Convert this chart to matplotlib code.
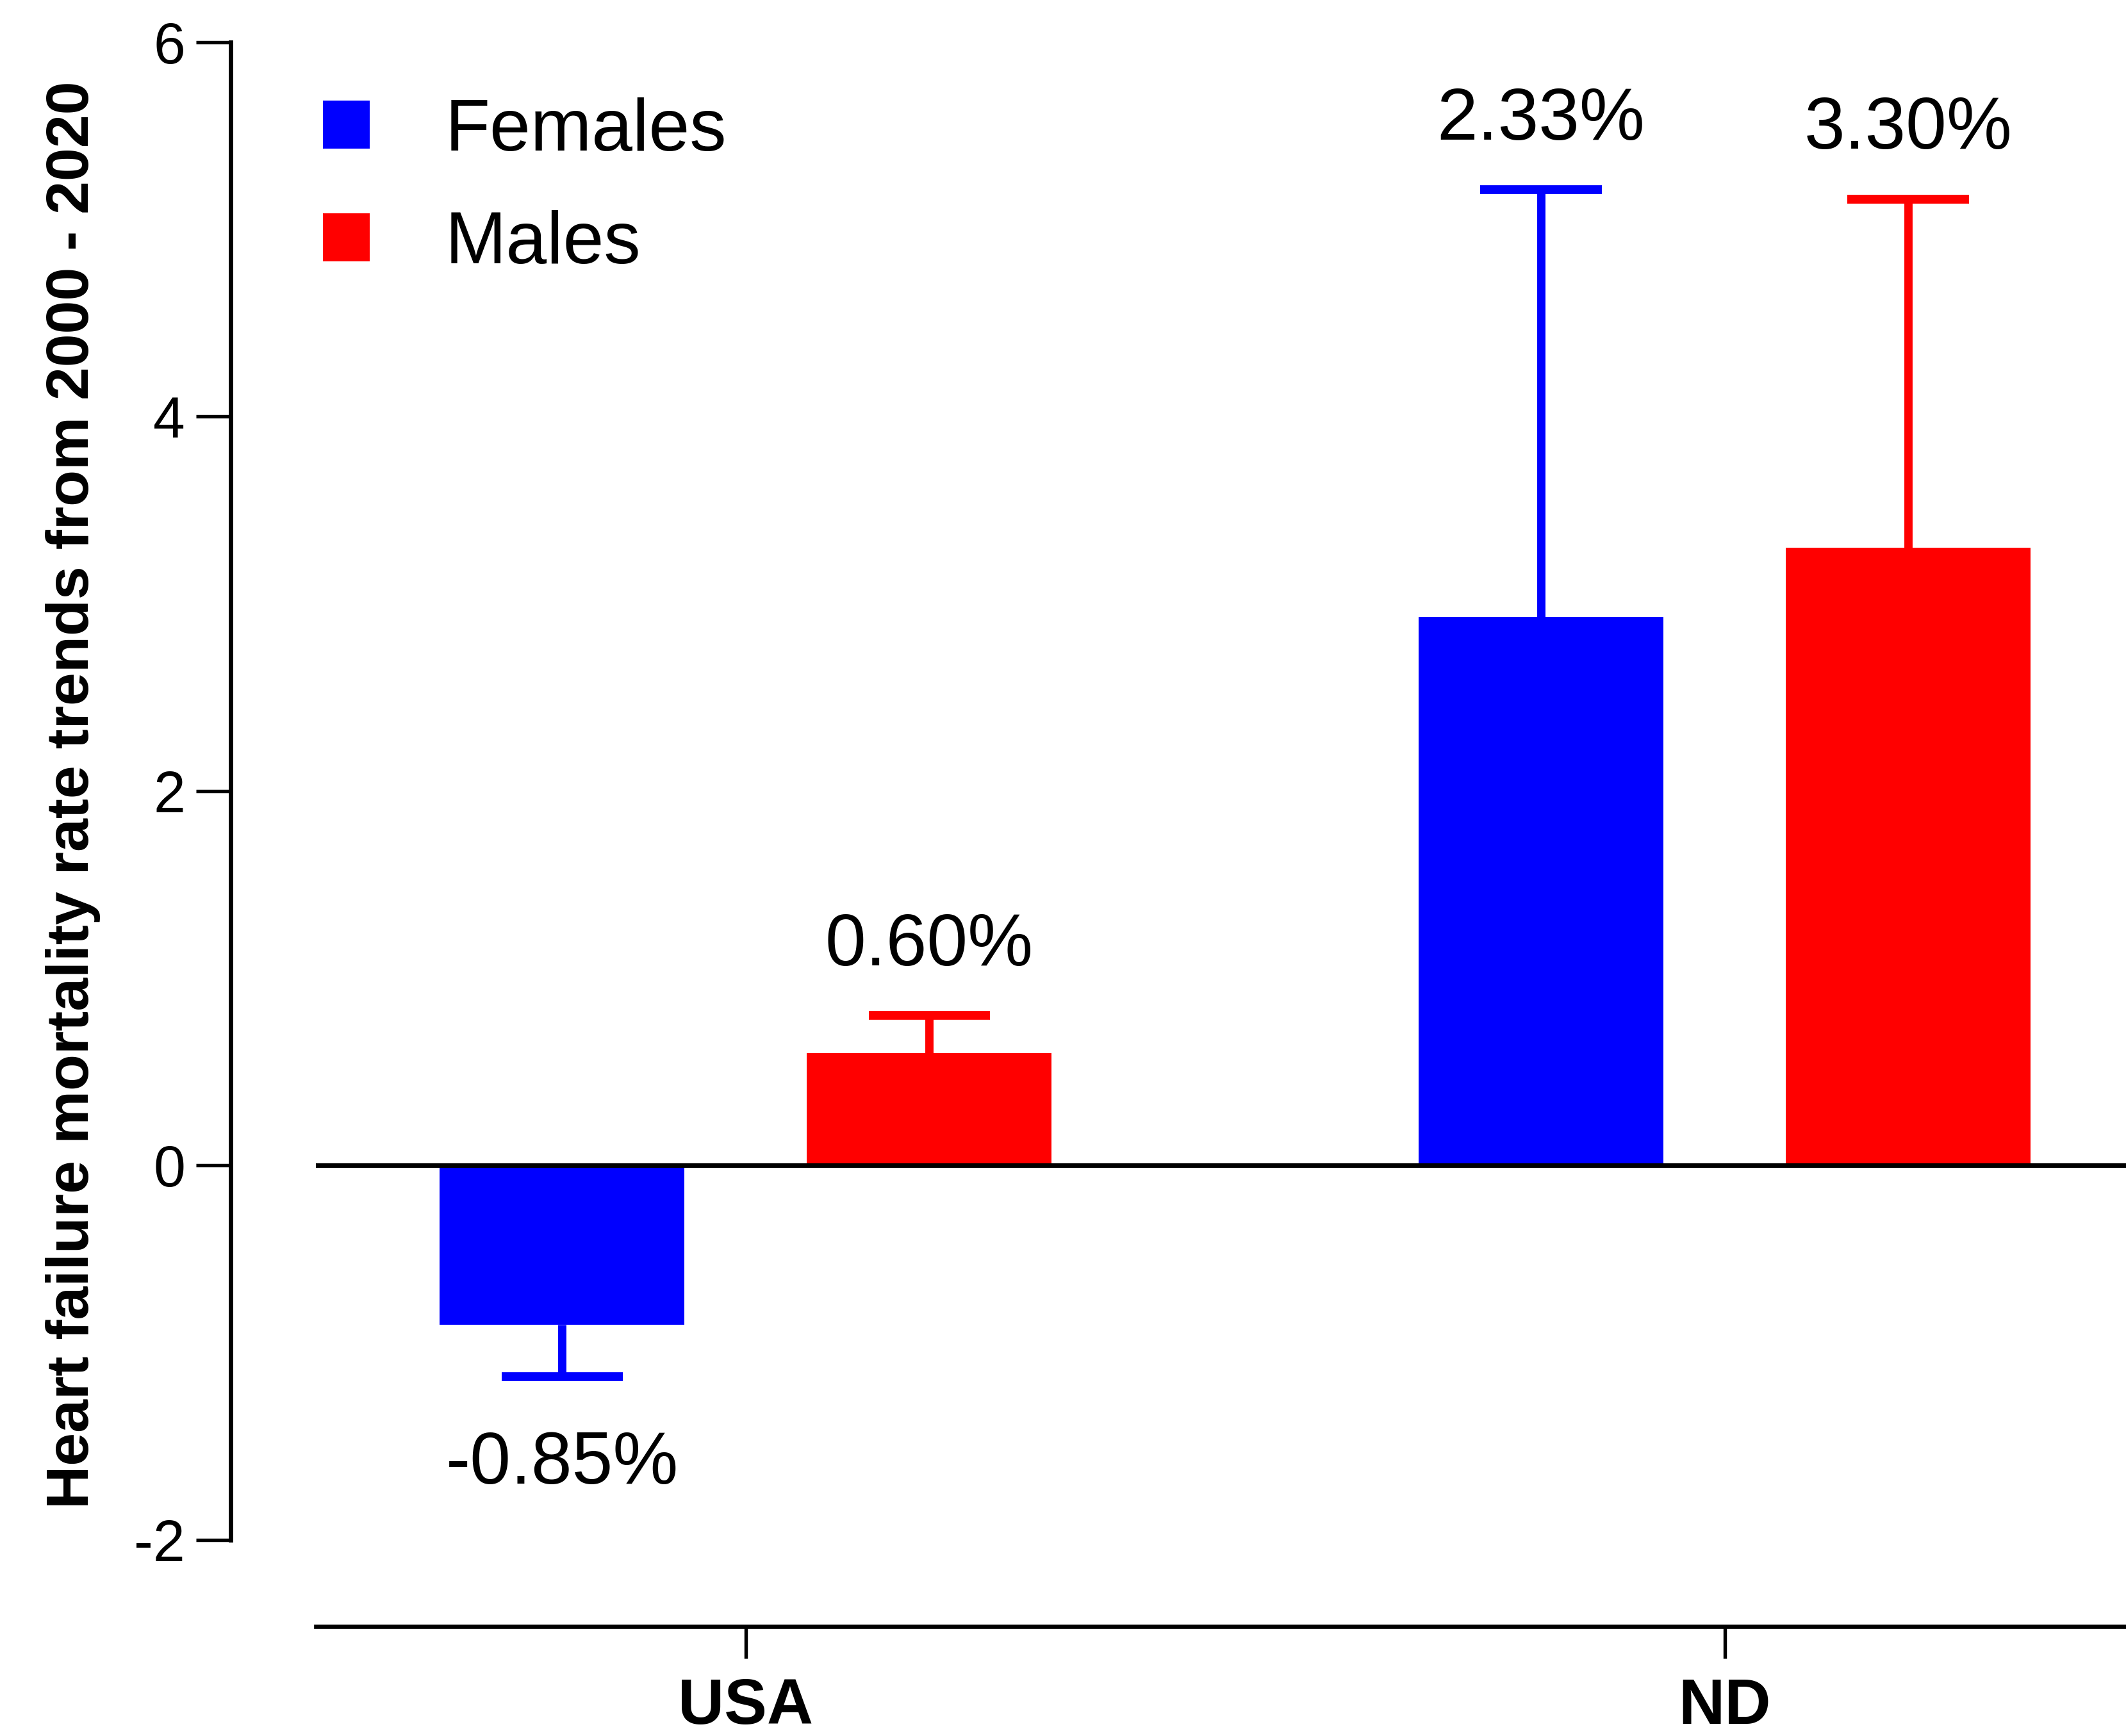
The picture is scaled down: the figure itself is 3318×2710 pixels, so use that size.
import matplotlib
matplotlib.use("Agg")
import matplotlib.pyplot as plt
import numpy as np

plt.rcParams['font.family'] = ['Liberation Sans', 'DejaVu Sans']

# data
groups = ['USA', 'ND']
series = ['Females', 'Males']
colors = ['#0000FF', '#FF0000']
females = [-0.85, 2.93]
males = [0.60, 3.30]
females_err = [0.28, 2.28]   # error away from zero
males_err = [0.20, 1.86]
females_lbl = ['-0.85%', '2.33%']
males_lbl = ['0.60%', '3.30%']
yticks = [-2, 0, 2, 4, 6]

fig = plt.figure(figsize=(3318 / 300, 2710 / 300), dpi=300)
ax = fig.add_axes([0.1486, 0.0632, 0.8514, 0.9126])

x = np.arange(len(groups))
off = 0.1875
width = 0.25
capw = 0.062

# spine first: set_position resets the ticks
for s in ['top', 'right']:
    ax.spines[s].set_visible(False)
ax.spines['left'].set_position(('outward', 32))
ax.spines['left'].set_bounds(-2, 6)
ax.spines['left'].set_linewidth(1.65)
ax.spines['bottom'].set_linewidth(1.6)

for vals, errs, lbls, col, name, sgn in [
        (females, females_err, females_lbl, colors[0], series[0], -1),
        (males, males_err, males_lbl, colors[1], series[1], 1)]:
    xs = x + sgn * off
    ax.bar(xs, vals, width, color=col, label=name, zorder=2)
    vals = np.array(vals)
    errs = np.array(errs)
    # one-sided error bars, pointing away from zero
    ends = vals + np.sign(vals) * errs
    ax.vlines(xs, vals, ends, color=col, lw=3.1, zorder=3)
    ax.hlines(ends, xs - capw, xs + capw, color=col, lw=3.3, zorder=3)
    for xi, v, e, t in zip(xs, vals, ends, lbls):
        if v < 0:
            ax.annotate(t, (xi, e), xytext=(0, -33), textcoords='offset points',
                        ha='center', va='center', fontsize=27.5)
        else:
            ax.annotate(t, (xi, e), xytext=(0, 26), textcoords='offset points',
                        ha='center', va='center', fontsize=27.5)

ax.axhline(0, color='black', lw=1.7, zorder=4)

ax.set_xlim(-0.439, 1.41)
ax.set_ylim(-2.462, 6)
ax.set_xticks(x)
ax.set_xticklabels(groups, fontsize=24, fontweight='bold')
ax.set_yticks(yticks)
ax.set_yticklabels([str(t) for t in yticks], fontsize=21.5)
ax.tick_params(axis='y', length=13, width=1.3, pad=4)
ax.tick_params(axis='x', length=12, width=1.3, pad=7)

ax.set_ylabel('Heart failure mortality rate trends from 2000 - 2020',
              fontsize=22.4, fontweight='bold')
ax.yaxis.set_label_coords(-0.119, 0.525)

ax.legend(loc='upper left', bbox_to_anchor=(0.004, 0.965), frameon=False,
          fontsize=27.5, handlelength=0.63, handleheight=0.63,
          handletextpad=1.03, labelspacing=0.6, borderaxespad=0, borderpad=0)

fig.savefig('out.png', dpi=300)
